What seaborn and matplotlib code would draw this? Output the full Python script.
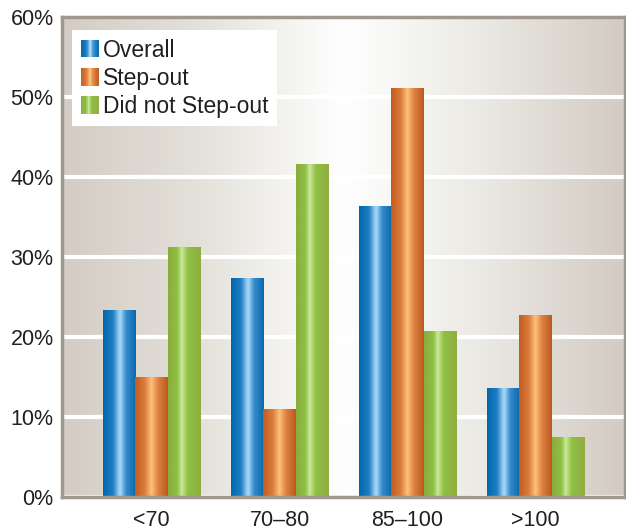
import numpy as np
import pandas as pd
import matplotlib
matplotlib.use("Agg")
import matplotlib.pyplot as plt
import seaborn as sns
from matplotlib.colors import LinearSegmentedColormap
from matplotlib.legend_handler import HandlerBase
from matplotlib.patches import Rectangle

# ---- data -------------------------------------------------------------
categories = ["<70", "70–80", "85–100", ">100"]
series = ["Overall", "Step-out", "Did not Step-out"]
overall = [23.4, 27.4, 36.4, 13.6]
step_out = [15.0, 11.0, 51.1, 22.7]
did_not_step_out = [31.2, 41.6, 20.7, 7.5]
y_ticks = [0, 10, 20, 30, 40, 50, 60]
y_tick_labels = ["0%", "10%", "20%", "30%", "40%", "50%", "60%"]

df = pd.DataFrame({
    "category": categories * 3,
    "series": [s for s in series for _ in categories],
    "value": overall + step_out + did_not_step_out,
})

# ---- styling ----------------------------------------------------------
def rgb(*c):
    return tuple(v / 255 for v in c)

bar_cmaps = {
    "Overall": LinearSegmentedColormap.from_list("blue_cyl", [
        (0.00, rgb(0, 102, 170)), (0.30, rgb(30, 125, 195)),
        (0.52, rgb(175, 220, 248)), (0.70, rgb(55, 140, 205)),
        (1.00, rgb(8, 104, 172))]),
    "Step-out": LinearSegmentedColormap.from_list("orange_cyl", [
        (0.00, rgb(192, 92, 32)), (0.30, rgb(220, 125, 60)),
        (0.50, rgb(255, 192, 125)), (0.70, rgb(222, 130, 66)),
        (1.00, rgb(188, 88, 30))]),
    "Did not Step-out": LinearSegmentedColormap.from_list("green_cyl", [
        (0.00, rgb(140, 172, 62)), (0.28, rgb(140, 192, 66)),
        (0.42, rgb(205, 232, 155)), (0.60, rgb(142, 192, 68)),
        (1.00, rgb(145, 172, 66))]),
}
palette = {s: bar_cmaps[s](0.3) for s in series}

bg_cmap = LinearSegmentedColormap.from_list("panel", [
    (0.00, rgb(212, 204, 196)), (0.25, rgb(228, 226, 219)),
    (0.50, rgb(255, 255, 255)), (0.75, rgb(234, 233, 227)),
    (1.00, rgb(211, 203, 195))])

frame_color = rgb(160, 152, 142)
text_color = rgb(35, 31, 32)

sns.set_theme(style="white")
plt.rcParams["font.family"] = ["Liberation Sans", "DejaVu Sans"]

fig = plt.figure(figsize=(6.26, 5.31), dpi=100)
ax = fig.add_axes([62 / 626, 1 - 497 / 531, 563 / 626, 480 / 531])

# panel background: horizontal light gradient
grad = np.linspace(0, 1, 512).reshape(1, -1)
ax.imshow(grad, cmap=bg_cmap, aspect="auto", extent=(0, 1, 0, 1),
          transform=ax.transAxes, zorder=0, interpolation="bicubic")

sns.barplot(data=df, x="category", y="value", hue="series",
            order=categories, hue_order=series, palette=palette,
            width=0.76, saturation=1, legend=False, ax=ax, zorder=1)

# cylindrical shading on each bar
strip = np.linspace(0, 1, 256).reshape(1, -1)
for name, container in zip(series, ax.containers):
    for bar in container:
        bar.set_edgecolor("none")
        x0, y0 = bar.get_x(), bar.get_y()
        w, h = bar.get_width(), bar.get_height()
        im = ax.imshow(strip, cmap=bar_cmaps[name], aspect="auto",
                       extent=(x0, x0 + w, y0, y0 + h), zorder=1.5,
                       interpolation="bicubic")
        im.set_clip_path(bar)

ax.set_xlim(-0.7, 3.7)
ax.set_ylim(0, 60)
ax.set_yticks(y_ticks)
ax.set_yticklabels(y_tick_labels)
ax.set_xlabel("")
ax.set_ylabel("")
ax.set_axisbelow(True)
ax.yaxis.grid(True, color="white", linewidth=3)
ax.xaxis.grid(False)
ax.tick_params(axis="both", length=0, labelsize=15.5, colors=text_color)
ax.tick_params(axis="y", pad=6)
ax.tick_params(axis="x", pad=9)
for sp in ax.spines.values():
    sp.set_visible(True)
    sp.set_color(frame_color)
    sp.set_linewidth(2.5)


class GradientSwatch(HandlerBase):
    def __init__(self, cmap):
        super().__init__()
        self.cmap = cmap

    def create_artists(self, legend, orig_handle, xdescent, ydescent,
                       width, height, fontsize, trans):
        n = 30
        arts = []
        for i in range(n):
            arts.append(Rectangle((-xdescent + width * i / n, -ydescent),
                                  width / n * 1.08, height,
                                  facecolor=self.cmap((i + 0.5) / n),
                                  edgecolor="none", transform=trans))
        return arts


handles = [Rectangle((0, 0), 1, 1) for _ in series]
handler_map = {h: GradientSwatch(bar_cmaps[s]) for h, s in zip(handles, series)}
leg = ax.legend(handles, series, handler_map=handler_map,
                loc="upper left", bbox_to_anchor=(0.018, 0.973),
                borderaxespad=0, fontsize=16.5, frameon=True,
                fancybox=False, framealpha=1, facecolor="white",
                edgecolor="none", handlelength=0.8, handleheight=0.8,
                handletextpad=0.15, labelspacing=0.22, borderpad=0.38)
for t in leg.get_texts():
    t.set_color(text_color)
leg.set_zorder(5)

fig.savefig("out.png", dpi=100)
